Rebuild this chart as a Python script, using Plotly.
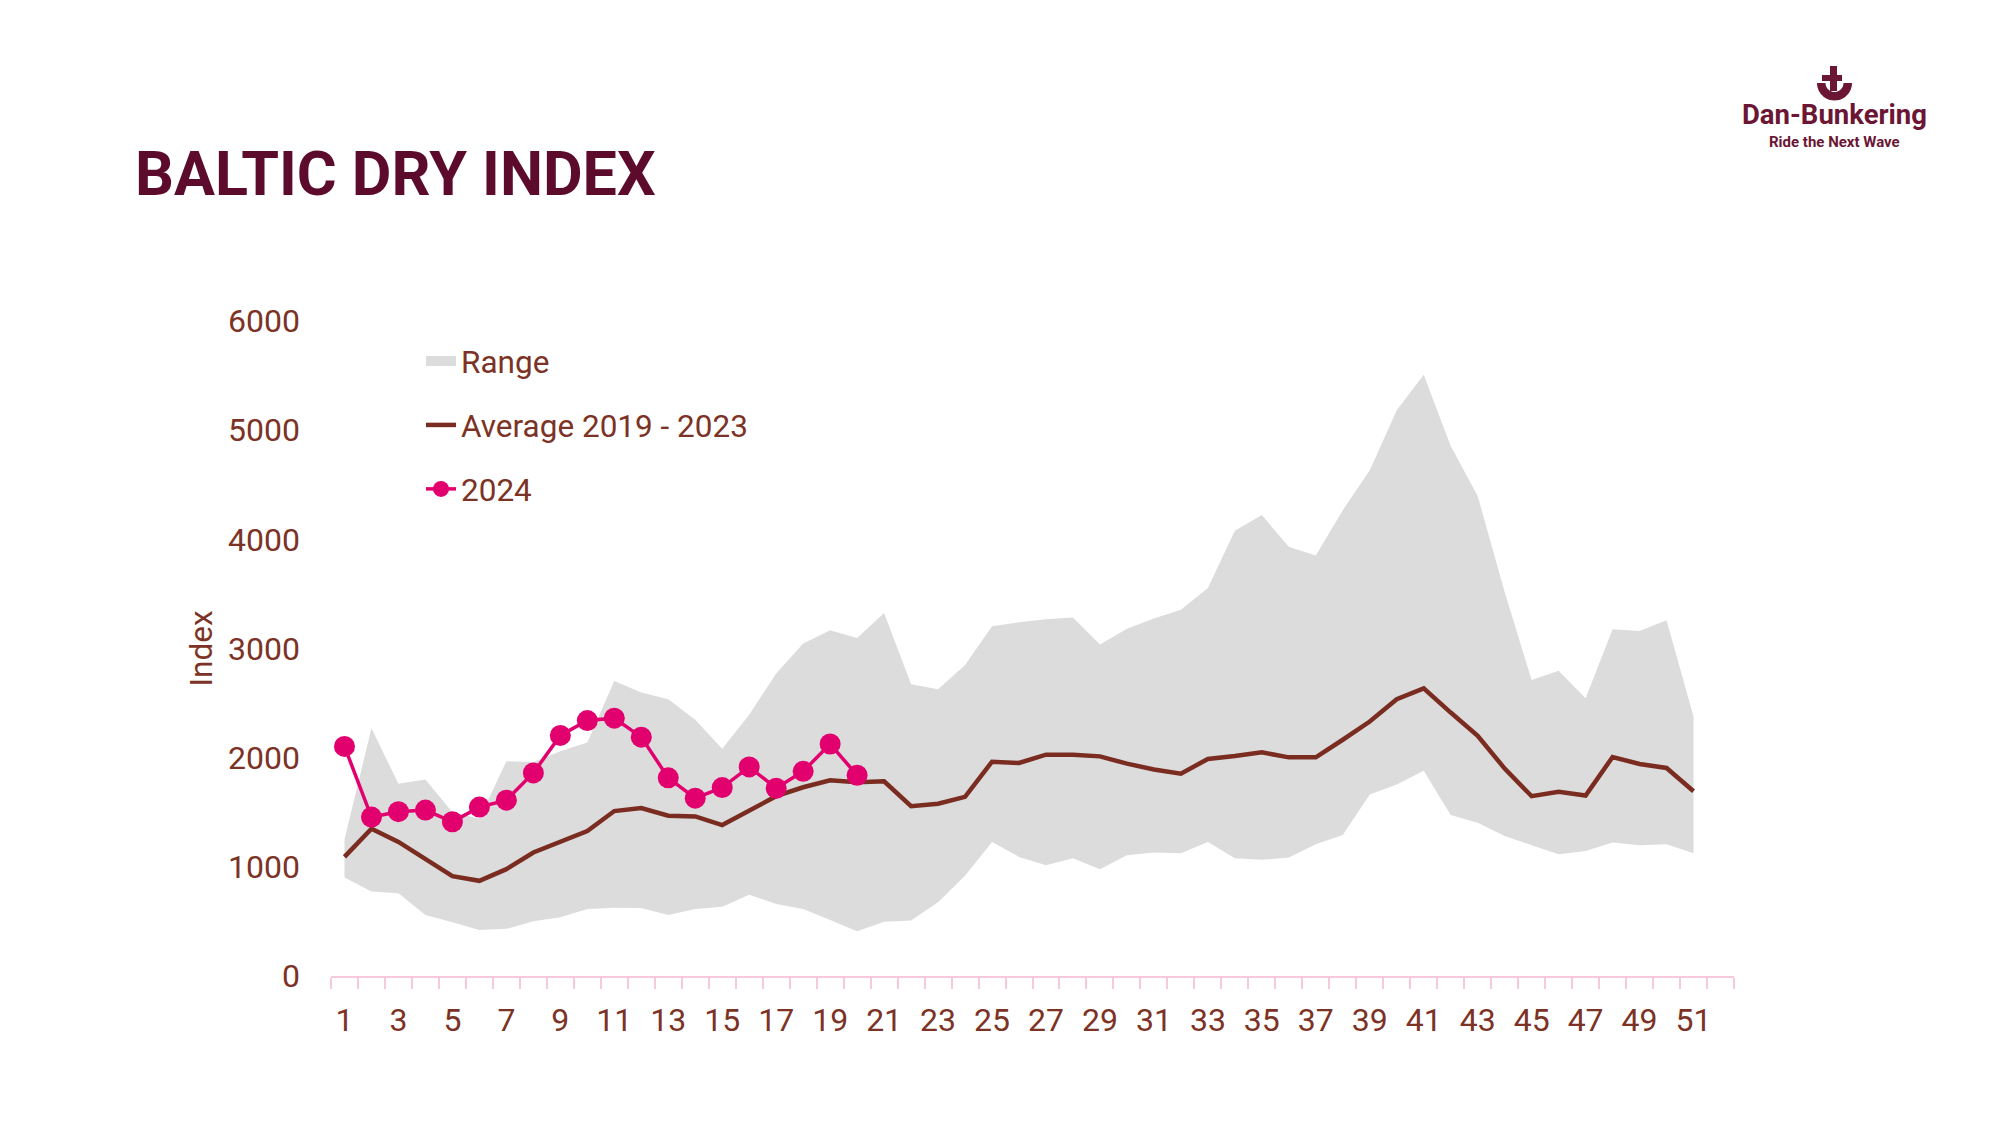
import plotly.graph_objects as go
import numpy as np

# ---------------- data ----------------
weeks = list(range(1, 52))
range_low = [903, 775, 757, 559, 492, 422, 432, 502, 538, 614,
             626, 623, 559, 614, 635, 745, 660, 614, 514, 410,
             498, 508, 675, 918, 1228, 1091, 1015, 1079, 979, 1106,
             1131, 1125, 1228, 1079, 1064, 1085, 1207, 1292, 1663, 1754,
             1881, 1474, 1404, 1283, 1198, 1116, 1146, 1222, 1198, 1207,
             1125]
range_high = [1250, 2270, 1760, 1800, 1500, 1440, 1967, 1960, 2058, 2140,
              2702, 2596, 2535, 2347, 2082, 2392, 2772, 3046, 3167, 3097,
              3325, 2672, 2626, 2848, 3204, 3240, 3267, 3283, 3036, 3182,
              3274, 3356, 3555, 4079, 4222, 3933, 3851, 4267, 4632, 5182,
              5508, 4854, 4398, 3517, 2711, 2796, 2544, 3176, 3161, 3258,
              2377]
avg_2019_2023 = [1091, 1350, 1228, 1070, 915, 872, 979, 1131, 1231, 1328,
                 1511, 1538, 1468, 1462, 1383, 1515, 1647, 1729, 1793, 1775,
                 1784, 1556, 1578, 1641, 1963, 1951, 2027, 2027, 2012, 1945,
                 1891, 1854, 1988, 2015, 2049, 2003, 2003, 2164, 2331, 2535,
                 2635, 2413, 2201, 1900, 1647, 1687, 1653, 2006, 1942, 1906,
                 1693]
weeks_2024 = list(range(1, 21))
values_2024 = [2103, 1456, 1505, 1520, 1413, 1547, 1611, 1860, 2204, 2340,
               2362, 2188, 1815, 1629, 1726, 1915, 1720, 1875, 2125, 1839]

xtick_vals = list(range(1, 52, 2))
xtick_text = [str(v) for v in xtick_vals]
ytick_vals = [0, 1000, 2000, 3000, 4000, 5000, 6000]
ytick_text = [str(v) for v in ytick_vals]

# ---------------- style ----------------
W, H = 2000, 1125
ML, MR, MT, MB = 323, 274, 313, 157
PW, PH = W - ML - MR, H - MT - MB

GRAY = "#dcdcdc"
AVG = "#7a2c21"
PINK = "#e2006f"
TXT = "#7c3326"
TITLE = "#5c0b2c"
LOGO = "#6b1634"
AXIS = "#f8c8dc"
FONT = "Roboto"


def px(x):
    return (x - ML) / PW


def py(y):
    return (H - MB - y) / PH


fig = go.Figure()

fig.add_trace(go.Scatter(
    x=weeks, y=range_low, mode="lines", line=dict(width=0, color=GRAY),
    showlegend=False, hoverinfo="skip", legendgroup="a"))
fig.add_trace(go.Scatter(
    x=weeks, y=range_high, mode="lines", line=dict(width=0, color=GRAY),
    fill="tonexty", fillcolor=GRAY, showlegend=False, name="Range",
    legendgroup="a"))
# legend entry for the range band
fig.add_trace(go.Scatter(
    x=[None], y=[None], mode="lines", line=dict(width=18, color=GRAY),
    name="Range", legendgroup="a"))
fig.add_trace(go.Scatter(
    x=weeks, y=avg_2019_2023, mode="lines", line=dict(width=4.5, color=AVG),
    name="Average 2019 - 2023", legendgroup="b"))
fig.add_trace(go.Scatter(
    x=weeks_2024, y=values_2024, mode="lines+markers",
    line=dict(width=3.5, color=PINK), marker=dict(size=21, color=PINK),
    name="2024", legendgroup="c"))

# ---------------- logo shapes ----------------
shapes = []
for (x0, y0, x1, y1) in [(1822, 58, 1829, 83), (1814, 67, 1834, 73)]:
    shapes.append(dict(type="rect", xref="paper", yref="paper",
                       x0=px(x0), x1=px(x1), y0=py(y1), y1=py(y0),
                       fillcolor=LOGO, line=dict(width=0), layer="above"))
cx, cy, ro, ri = 1826.5, 75, 17.5, 9
ang = np.linspace(0, np.pi, 25)
outer = [(cx + ro * np.cos(a), cy + ro * np.sin(a)) for a in ang]
inner = [(cx + ri * np.cos(a), cy + ri * np.sin(a)) for a in ang[::-1]]
pts = outer + inner
path = "M" + " L".join(f"{px(x):.5f},{py(y):.5f}" for x, y in pts) + " Z"
shapes.append(dict(type="path", xref="paper", yref="paper", path=path,
                   fillcolor=LOGO, line=dict(width=0), layer="above"))

annotations = [
    dict(text="<b>Dan-Bunkering</b>", xref="paper", yref="paper",
         x=px(1826), y=py(107), xanchor="center", yanchor="middle",
         showarrow=False, font=dict(family=FONT, size=27.5, color=LOGO)),
    dict(text="<b>Ride the Next Wave</b>", xref="paper", yref="paper",
         x=px(1826), y=py(134), xanchor="center", yanchor="middle",
         showarrow=False, font=dict(family=FONT, size=15, color=LOGO)),
]

fig.update_layout(
    width=W, height=H,
    margin=dict(l=ML, r=MR, t=MT, b=MB, pad=0, autoexpand=False),
    paper_bgcolor="white", plot_bgcolor="white",
    font=dict(family=FONT, size=31, color=TXT),
    title=dict(text="<b>BALTIC DRY INDEX</b>", xref="container", yref="container",
               x=127 / W, xanchor="left", y=1 - 166 / H, yanchor="middle",
               font=dict(family=FONT, size=61, color=TITLE)),
    showlegend=True,
    legend=dict(xref="paper", yref="paper", x=px(413), y=py(326),
                xanchor="left", yanchor="top", bgcolor="rgba(0,0,0,0)",
                font=dict(family=FONT, size=31.5, color=TXT),
                tracegroupgap=20, traceorder="grouped"),
    shapes=shapes,
    annotations=annotations,
    xaxis=dict(range=[0.5, 52.5], tickmode="array", tickvals=xtick_vals,
               ticktext=xtick_text, ticks="", showgrid=False, zeroline=False,
               showline=True, linecolor=AXIS, linewidth=2, tickangle=0,
               automargin=False, ticklabelstandoff=15,
               tickfont=dict(family=FONT, size=32, color=TXT),
               minor=dict(tickmode="linear", tick0=0.5, dtick=1, ticks="outside",
                          ticklen=11, tickwidth=2, tickcolor=AXIS, showgrid=False)),
    yaxis=dict(range=[0, 6000], tickmode="array", tickvals=ytick_vals,
               ticktext=ytick_text, ticks="", showgrid=False, zeroline=False,
               showline=False, ticklabelstandoff=30, automargin=True,
               tickfont=dict(family=FONT, size=32, color=TXT),
               title=dict(text="Index", standoff=6,
                          font=dict(family=FONT, size=31.5, color=TXT))),
)

fig.write_html("out.html")
